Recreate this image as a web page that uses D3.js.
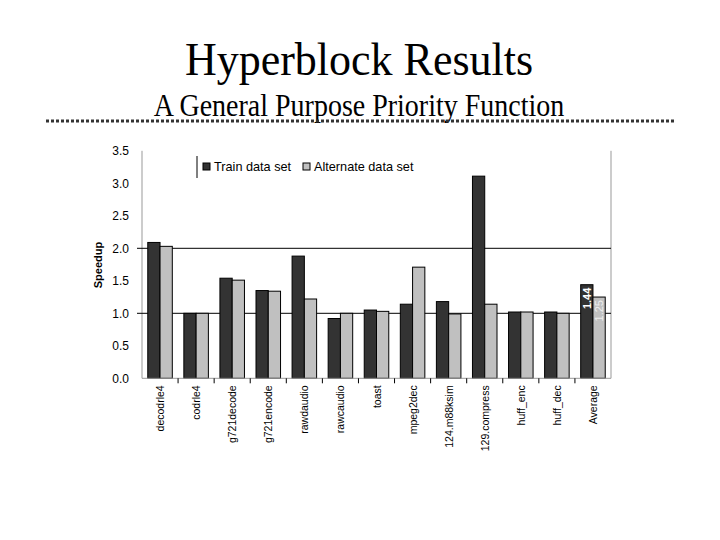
<!DOCTYPE html>
<html>
<head>
<meta charset="utf-8">
<script src="https://cdn.jsdelivr.net/npm/d3@7"></script>
<style>
  body { margin: 0; background: #fff; }
  svg { display: block; }
</style>
</head>
<body>
<svg id="canvas" width="720" height="540"></svg>
<script>
let benchmarks = ['decodrle4', 'codrle4', 'g721decode', 'g721encode', 'rawdaudio', 'rawcaudio',
  'toast', 'mpeg2dec', '124.m88ksim', '129.compress', 'huff_enc', 'huff_dec', 'Average']
let trainData = [2.09, 1.0, 1.54, 1.35, 1.88, 0.92, 1.05, 1.14, 1.18, 3.11, 1.02, 1.02, 1.44]
let altData = [2.03, 1.0, 1.51, 1.34, 1.22, 1.0, 1.03, 1.71, 0.99, 1.14, 1.02, 1.0, 1.25]
let seriesNames = ['Train data set', 'Alternate data set']
let yTicks = [0, 0.5, 1.0, 1.5, 2.0, 2.5, 3.0, 3.5]
let refLines = [1.0, 2.0]

let colors = ['#333333', '#c0c0c0']
let axisFont = 'Arial, "Liberation Sans", sans-serif'
let titleFont = '"Times New Roman", "Liberation Serif", serif'

let svg = d3.select('#canvas')

// titles (slightly stretched vertically, the original font is taller)
svg.append('text')
  .attr('transform', 'translate(359,75) scale(1,1.07)')
  .attr('text-anchor', 'middle')
  .style('font-family', titleFont)
  .style('font-size', '44px')
  .text('Hyperblock Results')

svg.append('text')
  .attr('transform', 'translate(359,116) scale(1,1.12)')
  .attr('text-anchor', 'middle')
  .style('font-family', titleFont)
  .style('font-size', '28px')
  .text('A General Purpose Priority Function')

// dotted rule under the subtitle
svg.append('line')
  .attr('x1', 46).attr('x2', 675)
  .attr('y1', 121).attr('y2', 121)
  .attr('stroke', '#333')
  .attr('stroke-width', 3)
  .attr('stroke-dasharray', '3,2')

let margin = { left: 142, right: 611, top: 150.8, bottom: 378.3 }

let x = d3.scaleBand()
  .domain(benchmarks)
  .range([margin.left, margin.right])
  .paddingInner(0.32)
  .paddingOuter(0.16)

let xSub = d3.scaleBand()
  .domain([0, 1])
  .range([0, x.bandwidth()])

let y = d3.scaleLinear()
  .domain([0, 3.5])
  .range([margin.bottom, margin.top])

// axis frame
svg.append('line')
  .attr('x1', margin.left).attr('x2', margin.left)
  .attr('y1', margin.top).attr('y2', margin.bottom)
  .attr('stroke', '#999')
svg.append('line')
  .attr('x1', margin.right).attr('x2', margin.right)
  .attr('y1', margin.top).attr('y2', margin.bottom)
  .attr('stroke', '#999')

// reference lines at 1.0 and 2.0
svg.selectAll('.ref')
  .data(refLines)
  .enter()
  .append('line')
  .attr('class', 'ref')
  .attr('x1', margin.left - 5).attr('x2', margin.right)
  .attr('y1', d => y(d)).attr('y2', d => y(d))
  .attr('stroke', '#000')

// y axis labels
let yAxis = d3.axisLeft(y)
  .tickValues(yTicks)
  .tickFormat(d3.format('.1f'))
  .tickSize(0)
  .tickPadding(13)
let yG = svg.append('g')
  .attr('transform', 'translate(' + margin.left + ',0)')
  .call(yAxis)
yG.select('.domain').remove()
yG.selectAll('text')
  .style('font-family', axisFont)
  .style('font-size', '12px')
  .attr('fill', '#000')

svg.append('text')
  .attr('transform', 'translate(102,265) rotate(-90)')
  .attr('text-anchor', 'middle')
  .style('font-family', axisFont)
  .style('font-size', '11px')
  .style('font-weight', 'bold')
  .text('Speedup')

// bars
let groups = svg.selectAll('.group')
  .data(benchmarks)
  .enter()
  .append('g')
  .attr('class', 'group')
  .attr('transform', d => 'translate(' + x(d) + ',0)')

groups.selectAll('rect')
  .data((d, i) => [trainData[i], altData[i]])
  .enter()
  .append('rect')
  .attr('x', (d, j) => xSub(j))
  .attr('y', d => y(d))
  .attr('width', xSub.bandwidth())
  .attr('height', d => y(0) - y(d))
  .attr('fill', (d, j) => colors[j])
  .attr('stroke', '#000')
  .attr('stroke-width', 1)

// bottom axis with ticks between categories
svg.append('line')
  .attr('x1', margin.left).attr('x2', margin.right)
  .attr('y1', margin.bottom).attr('y2', margin.bottom)
  .attr('stroke', '#999')

svg.selectAll('.xtick')
  .data(benchmarks.slice(1))
  .enter()
  .append('line')
  .attr('class', 'xtick')
  .attr('x1', d => x(d) - x.step() * x.paddingInner() / 2)
  .attr('x2', d => x(d) - x.step() * x.paddingInner() / 2)
  .attr('y1', margin.bottom).attr('y2', margin.bottom + 5)
  .attr('stroke', '#000')

svg.selectAll('.xlabel')
  .data(benchmarks)
  .enter()
  .append('text')
  .attr('class', 'xlabel')
  .attr('transform', d => 'translate(' + (x(d) + x.bandwidth() / 2 + 4) + ',' + (margin.bottom + 7) + ') rotate(-90)')
  .attr('text-anchor', 'end')
  .style('font-family', axisFont)
  .style('font-size', '10.5px')
  .text(d => d)

// value labels on the average bars
let last = benchmarks.length - 1
let avgVals = [trainData[last], altData[last]]
svg.selectAll('.vlabel')
  .data(avgVals)
  .enter()
  .append('text')
  .attr('class', 'vlabel')
  .attr('transform', (d, j) => 'translate(' + (x(benchmarks[last]) + xSub(j) + xSub.bandwidth() / 2 + 4) + ',' + (y(d) + 3) + ') rotate(-90)')
  .attr('text-anchor', 'end')
  .style('font-family', axisFont)
  .style('font-size', '11px')
  .style('font-weight', (d, j) => j === 0 ? 'bold' : 'normal')
  .attr('fill', (d, j) => j === 0 ? '#fff' : '#eee')
  .text(d => d.toFixed(2))

// legend
let legend = svg.append('g').attr('transform', 'translate(197,0)')
legend.append('line')
  .attr('x1', 0).attr('x2', 0)
  .attr('y1', 156).attr('y2', 178)
  .attr('stroke', '#000')
let legendX = [6, 106]
seriesNames.forEach((name, j) => {
  legend.append('rect')
    .attr('x', legendX[j]).attr('y', 163)
    .attr('width', 7).attr('height', 7)
    .attr('fill', colors[j])
    .attr('stroke', '#000')
  legend.append('text')
    .attr('x', legendX[j] + 11).attr('y', 171)
    .style('font-family', axisFont)
    .style('font-size', '12.7px')
    .text(name)
})
</script>
</body>
</html>
